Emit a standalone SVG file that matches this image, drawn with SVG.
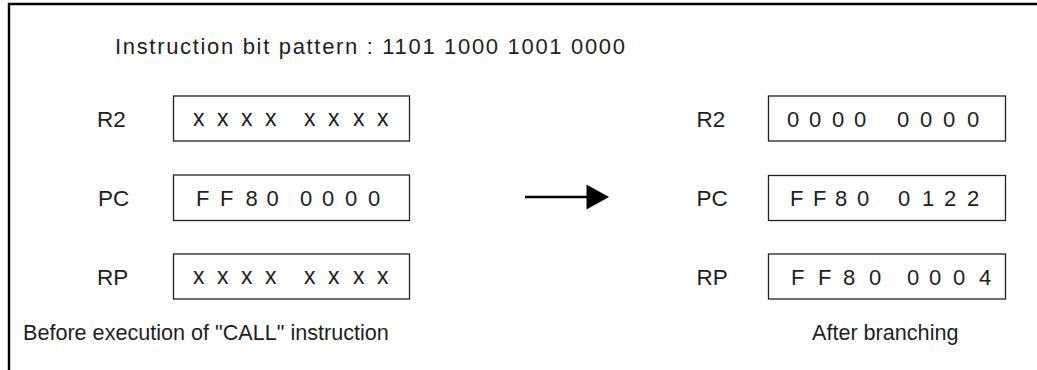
<svg xmlns="http://www.w3.org/2000/svg" width="1037" height="370" viewBox="0 0 1037 370">
<style>
  text { font-family: "Liberation Sans", Arial, sans-serif; font-size: 22px; fill: #1e1e1e; }
  .lbl { font-size: 22.5px; }
  .box { fill: #ffffff; stroke: #222222; stroke-width: 1.3; }
  .val { font-size: 22px; }
  .xx { font-size: 23px; }
  .cap { font-size: 21.6px; }
  .frame { fill: none; stroke: #000000; stroke-width: 2.4; }
  .conn { stroke: #000000; stroke-width: 2.4; fill: none; }
  .head { fill: #000000; }
</style>
<rect width="1037" height="370" fill="#ffffff"/>
<path class="frame" d="M9,370 V4 H1037"/>

<g id="title">
  <text x="115" y="53.5" font-size="23.5" textLength="510" lengthAdjust="spacing">Instruction bit pattern : 1101 1000 1001 0000</text>
</g>

<g id="before-r2">
  <text class="lbl" x="97" y="126.5">R2</text>
  <rect class="box" x="173.5" y="96" width="236" height="45"/>
  <text class="xx" y="126" x="193 205 217 229 241 253 265 284 304 316 328 340 353 365 377">x x x x x x x x</text>
</g>
<g id="before-pc">
  <text class="lbl" x="98" y="206">PC</text>
  <rect class="box" x="173.5" y="175" width="236" height="45.5"/>
  <text class="val" y="206" x="196 208 220 233 245.5 256 266.5 283 300 311 322 333 345 356 368">F F 8 0 0 0 0 0</text>
</g>
<g id="before-rp">
  <text class="lbl" x="97" y="284.5">RP</text>
  <rect class="box" x="173.5" y="254" width="236" height="45"/>
  <text class="xx" y="284" x="193 205 217 229 241 253 265 284 304 316 328 340 353 365 377">x x x x x x x x</text>
</g>
<g id="before-caption">
  <text class="cap" x="23" y="340">Before execution of "CALL" instruction</text>
</g>

<g id="connectors">
  <line class="conn" x1="525" y1="197" x2="589" y2="197"/>
  <polygon class="head" points="586.5,184.5 609,197 586.5,209.5"/>
</g>

<g id="after-r2">
  <text class="lbl" x="696.5" y="126.5">R2</text>
  <rect class="box" x="768.5" y="96" width="237" height="45"/>
  <text class="val" y="126.5" x="787 798 809 820 832 843 854 875 897 908 920 931 943 955 967">0 0 0 0 0 0 0 0</text>
</g>
<g id="after-pc">
  <text class="lbl" x="696.5" y="206">PC</text>
  <rect class="box" x="768.5" y="175.5" width="237" height="45"/>
  <text class="val" y="206" x="790 801 813 824 835 846 857 877 898 910 922 933 944 955 967">F F 8 0 0 1 2 2</text>
</g>
<g id="after-rp">
  <text class="lbl" x="696.5" y="284.5">RP</text>
  <rect class="box" x="768.5" y="254" width="237" height="45"/>
  <text class="val" y="284.5" x="791 804 818 830 843 856 869 888 907 918 929 941 953 966 979">F F 8 0 0 0 0 4</text>
</g>
<g id="after-caption">
  <text class="cap" x="812" y="340">After branching</text>
</g>
</svg>
